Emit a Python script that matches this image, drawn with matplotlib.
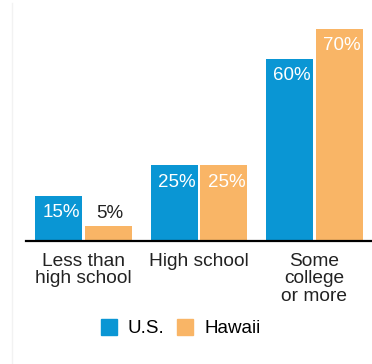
import numpy as np
import matplotlib
matplotlib.use('Agg')
import matplotlib.pyplot as plt
from matplotlib.lines import Line2D

categorias = ['Less than\nhigh school', 'High school', 'Some\ncollege\nor more']
us = [15, 25, 60]
hawaii = [5, 25, 70]
series = ['U.S.', 'Hawaii']

azul = '#0A96D4'
laranja = '#F9B566'

plt.rcParams['font.family'] = ['Liberation Sans', 'DejaVu Sans']

fig = plt.figure(figsize=(3.72, 3.64), dpi=100)
ax = fig.add_axes([26/372, 1 - 241/364, 346/372, 241/364])

x = np.arange(len(categorias))
w = 0.407
off = w/2 + 0.013
b1 = ax.bar(x - off, us, w, color=azul)
b2 = ax.bar(x + off, hawaii, w, color=laranja)

for barras, vals in [(b1, us), (b2, hawaii)]:
    for b, v in zip(barras, vals):
        cx = b.get_x() + b.get_width()/2
        if v >= 10:
            ax.annotate(f'{v}%', (cx, v), xytext=(2, -6), textcoords='offset points',
                        ha='center', va='top', color='white', fontsize=13.5)
        else:
            ax.annotate(f'{v}%', (cx, v), xytext=(1, 3), textcoords='offset points',
                        ha='center', va='bottom', color='#222222', fontsize=13.5)

ax.set_xlim(-0.5, 2.5)
ax.set_ylim(0, 79.5)
for s in ['top', 'right', 'left']:
    ax.spines[s].set_visible(False)
ax.spines['bottom'].set_linewidth(1.6)
ax.spines['bottom'].set_color('black')
ax.set_yticks([])
ax.set_xticks(x)
ax.set_xticklabels(categorias, fontsize=13.8, linespacing=1.03, color='#222222')
ax.tick_params(axis='x', length=0, pad=8.5)

# linha cinza clara na esquerda
fig.add_artist(Line2D([12/372, 12/372], [0, 1 - 3/364], color='#f2f2f2', lw=1))

handles = [Line2D([], [], marker='s', linestyle='', markersize=11, color=azul),
           Line2D([], [], marker='s', linestyle='', markersize=11, color=laranja)]
fig.legend(handles, series, loc='center', bbox_to_anchor=(0.484, 0.097), ncol=2,
           frameon=False, fontsize=13.5, handletextpad=0.5, columnspacing=0.6,
           handlelength=1.0)

fig.savefig('out.png', dpi=100)
